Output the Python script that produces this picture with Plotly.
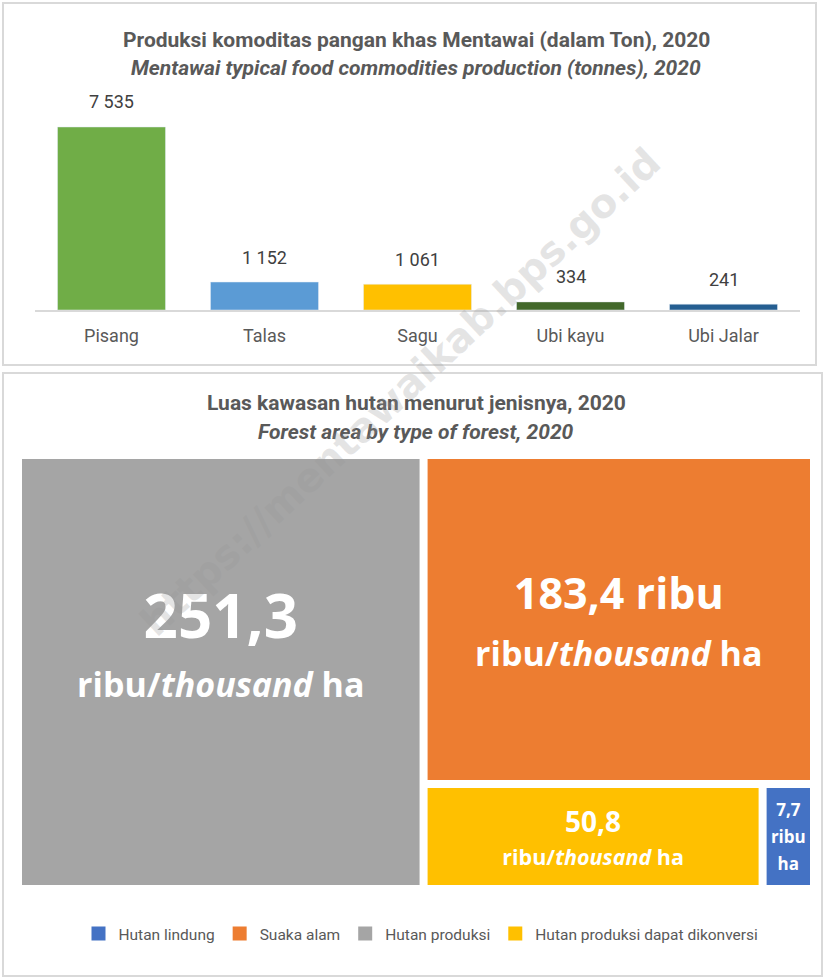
import plotly.graph_objects as go

# bar chart data
crops = ["Pisang", "Talas", "Sagu", "Ubi kayu", "Ubi Jalar"]
production = [7535, 1152, 1061, 334, 241]
crop_colors = ["#70AD47", "#5B9BD5", "#FFC000", "#43682B", "#255E91"]

# treemap data
forest_types = ["Hutan lindung", "Suaka alam", "Hutan produksi", "Hutan produksi dapat dikonversi"]
forest_area = [7.7, 183.4, 251.3, 50.8]
forest_colors = ["#4472C4", "#ED7D31", "#A5A5A5", "#FFC000"]
forest_text = [
    "<b><span style='font-size:17px'>7,7<br>ribu<br>ha</span></b>",
    "<b><span style='font-size:43px'>183,4 ribu</span><br>"
    "<span style='font-size:34px'>ribu/<i>thousand</i> ha</span></b>",
    "<b><span style='font-size:60px'>251,3</span><br>"
    "<span style='font-size:34px'>ribu/<i>thousand</i> ha</span><br> </b>",
    "<b><span style='font-size:28px'>50,8</span><br>"
    "<span style='font-size:21.5px'>ribu/<i>thousand</i> ha</span></b>",
]
# base sizes set the line spacing of each tile label
forest_font_size = [21, 44, 46, 25]

FONT = "Roboto, sans-serif"
H = 977
W = 823


def py(px):
    return 1 - px / H


fig = go.Figure()

fig.add_trace(
    go.Bar(
        x=crops,
        y=production,
        marker_color=crop_colors,
        showlegend=False,
        hoverinfo="skip",
    )
)

# legend entries for the treemap
for name, col in zip(forest_types, forest_colors):
    fig.add_trace(
        go.Scatter(
            x=[None],
            y=[None],
            mode="markers",
            name=name,
            marker=dict(symbol="square", size=14, color=col),
        )
    )

fig.add_trace(
    go.Treemap(
        ids=["root"] + forest_types,
        labels=[""] + forest_types,
        parents=[""] + ["root"] * len(forest_types),
        values=[0] + forest_area,
        branchvalues="remainder",
        text=[""] + forest_text,
        texttemplate="%{text}",
        textposition="middle center",
        textfont=dict(family="Open Sans, sans-serif", color="white", size=[10] + forest_font_size),
        marker=dict(
            colors=["white"] + forest_colors,
            line=dict(color="white", width=5),
            pad=dict(t=0, l=0, r=0, b=0),
        ),
        root_color="white",
        pathbar=dict(visible=False),
        sort=True,
        domain=dict(x=[19.5 / W, 812.5 / W], y=[py(887.5), py(456.5)]),
        hoverinfo="skip",
    )
)

annotations = []
for c, v in zip(crops, production):
    annotations.append(
        dict(
            x=c,
            y=v,
            xref="x",
            yref="y",
            text=f"{v:,}".replace(",", " "),
            showarrow=False,
            yshift=25,
            font=dict(family=FONT, size=18, color="#404040"),
        )
    )

titles = [
    ("<b>Produksi komoditas pangan khas Mentawai (dalam Ton), 2020</b>", 40),
    ("<b><i>Mentawai typical food commodities production (tonnes), 2020</i></b>", 68),
    ("<b>Luas kawasan hutan menurut jenisnya, 2020</b>", 403),
    ("<b><i>Forest area by type of forest, 2020</i></b>", 432),
]
for t, y in titles:
    annotations.append(
        dict(
            x=416 / W,
            y=py(y),
            xref="paper",
            yref="paper",
            text=t,
            showarrow=False,
            yanchor="middle",
            font=dict(family=FONT, size=21, color="#595959"),
        )
    )

# watermark
annotations.append(
    dict(
        x=400 / W,
        y=py(392),
        xref="paper",
        yref="paper",
        text="<b>https://mentawaikab.bps.go.id</b>",
        showarrow=False,
        textangle=-43,
        font=dict(family="DejaVu Sans, sans-serif", size=40, color="rgba(150,150,150,0.25)"),
    )
)

shapes = [
    dict(type="rect", xref="paper", yref="paper", x0=3 / W, x1=816 / W, y0=py(365), y1=py(3),
         line=dict(color="#D9D9D9", width=2), layer="below"),
    dict(type="rect", xref="paper", yref="paper", x0=3 / W, x1=822 / W, y0=py(976), y1=py(373),
         line=dict(color="#D9D9D9", width=2), layer="below"),
]

fig.update_layout(
    width=W,
    height=H,
    autosize=False,
    margin=dict(l=0, r=0, t=0, b=0),
    paper_bgcolor="white",
    plot_bgcolor="white",
    bargap=0.294,
    xaxis=dict(
        domain=[35 / W, 800 / W],
        showline=True,
        linecolor="#D9D9D9",
        linewidth=2,
        ticks="",
        showgrid=False,
        tickfont=dict(family=FONT, size=18, color="#595959"),
        ticklabelstandoff=8,
        fixedrange=True,
    ),
    yaxis=dict(
        domain=[py(310), py(91.4)],
        range=[0, 9000],
        visible=False,
        fixedrange=True,
    ),
    legend=dict(
        orientation="h",
        x=421 / W,
        xanchor="center",
        y=py(934),
        yanchor="middle",
        font=dict(family=FONT, size=15.5, color="#595959"),
        itemwidth=30,
    ),
    annotations=annotations,
    shapes=shapes,
)

fig.write_html(
    "out.html",
    config={"displayModeBar": False},
    post_script="document.body.style.margin='0';",
)
